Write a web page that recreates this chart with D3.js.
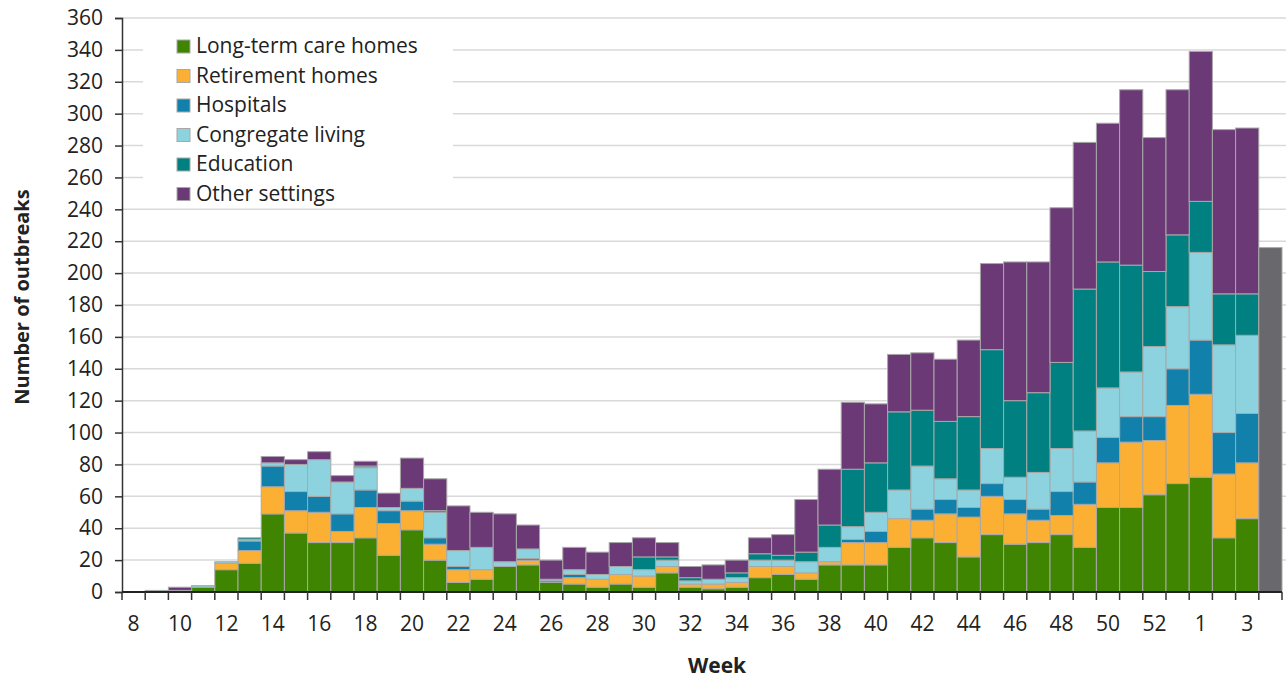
<!DOCTYPE html>
<html>
<head>
<meta charset="utf-8">
<script src="https://cdn.jsdelivr.net/npm/d3@7"></script>
<style>
  body { margin: 0; background: #fff; }
  text { font-family: "Open Sans", sans-serif; fill: #222; }
</style>
</head>
<body>
<div id="chart-area"></div>
<script>
// weeks 8..53 of 2020, then 1..4 of 2021
const weeks = d3.range(8, 54).concat([1, 2, 3, 4]);

const longTermCare = [0,0,0,3,14,18,49,37,31,31,34,23,39,20,6,8,16,17,6,5,3,5,3,12,3,2,3,9,11,8,17,17,17,28,34,31,22,36,30,31,36,28,53,53,61,68,72,34,46,0];
const retirement   = [0,0,0,0,4,8,17,14,19,7,19,20,12,10,8,6,0,3,0,4,5,6,7,4,2,3,3,7,5,4,2,14,14,18,11,18,25,24,19,14,12,27,28,41,34,49,52,40,35,0];
const hospitals    = [0,0,0,0,0,6,13,12,10,11,11,8,6,4,2,0,0,1,1,2,0,0,0,0,0,0,0,0,0,0,0,2,7,0,7,9,6,8,9,7,15,14,16,16,15,23,34,26,31,0];
const congregate   = [0,1,1,1,1,1,2,17,23,20,14,2,8,16,10,14,3,6,1,3,3,5,4,4,2,3,3,4,4,7,9,8,12,18,27,13,11,22,14,23,27,32,31,28,44,39,55,55,49,0];
const education    = [0,0,0,0,0,1,0,0,0,0,1,0,0,1,0,0,0,0,0,0,0,0,8,2,2,0,3,4,3,6,14,36,31,49,35,36,46,62,48,50,54,89,79,67,47,45,32,32,26,0];
const other        = [0,0,2,0,0,0,4,3,5,4,3,9,19,20,28,22,30,15,12,14,14,15,12,9,7,9,8,10,13,33,35,42,37,36,36,39,48,54,87,82,97,92,87,110,84,91,94,103,104,0];
// most recent week, shown as a total only
const incomplete   = [0,0,0,0,0,0,0,0,0,0,0,0,0,0,0,0,0,0,0,0,0,0,0,0,0,0,0,0,0,0,0,0,0,0,0,0,0,0,0,0,0,0,0,0,0,0,0,0,0,216];

const seriesNames = ["Long-term care homes", "Retirement homes", "Hospitals", "Congregate living", "Education", "Other settings"];
const colors = ["#3f8502", "#fbb034", "#1180aa", "#8cd3df", "#008080", "#6b3a76", "#69696d"];
const yTicks = d3.range(0, 361, 20);

const WIDTH = 1286;
const HEIGHT = 679;
const margin = {top: 18, right: 4, bottom: 87, left: 122};

const svg = d3.select("#chart-area").append("svg")
  .attr("width", WIDTH)
  .attr("height", HEIGHT);

const keys = ["ltc", "rh", "hosp", "cong", "edu", "other", "inc"];
const table = weeks.map((w, i) => ({
  week: w, idx: i,
  ltc: longTermCare[i], rh: retirement[i], hosp: hospitals[i],
  cong: congregate[i], edu: education[i], other: other[i], inc: incomplete[i]
}));

const x = d3.scaleBand()
  .domain(table.map(d => d.idx))
  .range([margin.left, WIDTH - margin.right])
  .padding(0);

const y = d3.scaleLinear()
  .domain([0, 360])
  .range([HEIGHT - margin.bottom, margin.top]);

// gridlines
svg.append("g")
  .selectAll("line")
  .data(yTicks.slice(1))
  .join("line")
    .attr("x1", margin.left)
    .attr("x2", WIDTH)
    .attr("y1", d => y(d))
    .attr("y2", d => y(d))
    .attr("stroke", "#d9d9d9")
    .attr("stroke-width", 1.5);

// stacked bars
const stack = d3.stack().keys(keys)(table);

svg.append("g")
  .selectAll("g")
  .data(stack)
  .join("g")
    .attr("fill", (d, i) => colors[i])
  .selectAll("rect")
  .data(d => d.filter(p => p[1] - p[0] > 0))
  .join("rect")
    .attr("x", p => x(p.data.idx))
    .attr("width", x.bandwidth())
    .attr("y", p => y(p[1]))
    .attr("height", p => y(p[0]) - y(p[1]))
    .attr("stroke", "#a8a8a8")
    .attr("stroke-width", 1);

// y axis
const yAxis = d3.axisLeft(y).tickValues(yTicks).tickSize(7).tickPadding(12);
const yAxisGroup = svg.append("g")
  .attr("transform", `translate(${margin.left}, 0)`)
  .call(yAxis);
yAxisGroup.select(".domain").attr("stroke", "#333").attr("stroke-width", 1.5);
yAxisGroup.selectAll(".tick line").attr("stroke", "#333").attr("stroke-width", 1.5);
yAxisGroup.selectAll("text")
  .attr("font-size", "21px")
  .attr("font-family", "Open Sans, sans-serif")
  .attr("fill", "#222");

// x axis: ticks at band edges, labels on every other week
const xAxisGroup = svg.append("g")
  .attr("transform", `translate(0, ${y(0)})`);

xAxisGroup.append("line")
  .attr("x1", margin.left)
  .attr("x2", WIDTH - margin.right)
  .attr("stroke", "#222")
  .attr("stroke-width", 2);

xAxisGroup.selectAll(".tk")
  .data(table.map(d => x(d.idx)).concat([x(table.length - 1) + x.bandwidth()]))
  .join("line")
    .attr("class", "tk")
    .attr("x1", d => d)
    .attr("x2", d => d)
    .attr("y1", 0)
    .attr("y2", 8)
    .attr("stroke", "#333")
    .attr("stroke-width", 1.5);

xAxisGroup.selectAll(".lbl")
  .data(table.filter(d => d.idx % 2 === 0))
  .join("text")
    .attr("class", "lbl")
    .attr("x", d => x(d.idx) + x.bandwidth() / 2)
    .attr("y", 39)
    .attr("text-anchor", "middle")
    .attr("font-size", "21px")
    .text(d => d.week);

// axis titles
svg.append("text")
  .attr("x", 717)
  .attr("y", 673)
  .attr("text-anchor", "middle")
  .attr("font-size", "21px")
  .attr("font-weight", "bold")
  .text("Week");

svg.append("text")
  .attr("transform", "translate(29, 297) rotate(-90)")
  .attr("text-anchor", "middle")
  .attr("font-size", "20px")
  .attr("font-weight", "bold")
  .text("Number of outbreaks");

// legend
const legend = svg.append("g");
legend.append("rect")
  .attr("x", 143).attr("y", 28)
  .attr("width", 310).attr("height", 178)
  .attr("fill", "#fff");

const items = legend.selectAll(".item")
  .data(seriesNames)
  .join("g")
    .attr("class", "item")
    .attr("transform", (d, i) => `translate(177, ${40 + i * 29.5})`);

items.append("rect")
  .attr("width", 13).attr("height", 13)
  .attr("fill", (d, i) => colors[i])
  .attr("stroke", "#a8a8a8");

items.append("text")
  .attr("x", 19)
  .attr("y", 13)
  .attr("font-size", "21px")
  .text(d => d);
</script>
</body>
</html>
